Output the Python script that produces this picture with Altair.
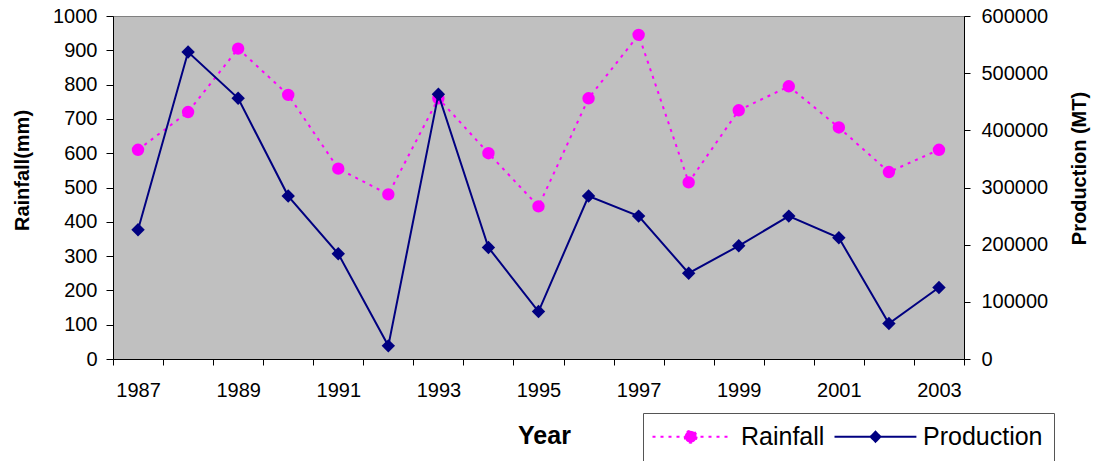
import math

import altair as alt
import pandas as pd

# ---- data -------------------------------------------------------------
years = list(range(1987, 2004))
rainfall_mm = [610, 720, 905, 770, 555, 480, 760, 600, 445,
               760, 945, 515, 725, 795, 675, 545, 610]
production_mt = [226000, 537000, 456000, 285000, 184000, 23000, 463000, 195000, 83000,
                 285000, 250000, 150000, 198000, 250000, 212000, 62000, 125000]

series_names = ["Rainfall", "Production"]
series_colors = ["#FF00FF", "#000080"]

rainfall_ticks = list(range(0, 1001, 100))
production_ticks = list(range(0, 600001, 100000))

# tick marks sit on the category boundaries, labels on every other year
year_bounds = [y - 0.5 for y in years] + [years[-1] + 0.5]
year_labels = [y for y in years if y % 2 == 1]
x_values = sorted(year_bounds + year_labels)

FONT = "Liberation Sans"


# ---- legend keys: a short line with the series marker in its middle ----
def ring(cx, r, n=32):
    pts = [(cx + r * math.cos(2 * math.pi * k / n), r * math.sin(2 * math.pi * k / n))
           for k in range(n)]
    return "M" + "L".join(f"{px:.3f},{py:.3f}" for px, py in pts) + "Z"


rain_key = "M-2,0L8.9,0" + ring(3.45, 0.85)
prod_key = "M-2,0L9.7,0M3.15,0L3.86,-0.71L4.57,0L3.86,0.71Z"

df = pd.DataFrame({"year": years, "Rainfall": rainfall_mm, "Production": production_mt})
base = alt.Chart(df)

x_enc = alt.X(
    "year:Q",
    scale=alt.Scale(domain=[1986.5, 2003.5], nice=False, zero=False),
    axis=alt.Axis(
        values=x_values,
        tickCount=len(x_values) + 10,
        tickMinStep=0.1,
        format="d",
        labelExpr="datum.value % 2 == 1 ? datum.label : ''",
        tickOpacity={"condition": {"test": "datum.value % 1 != 0", "value": 1}, "value": 0},
        labelOverlap=False,
        labelFlush=False,
        tickSize=6,
        labelPadding=15,
        title="Year",
        titleFontSize=25,
        titleFontWeight="bold",
        titleX=431,
        titleY=84,
        titleBaseline="alphabetic",
        titleAlign="center",
    ),
)

left_axis = alt.Axis(
    orient="left", values=rainfall_ticks, tickCount=20, format="d", tickSize=7, labelPadding=9,
    title="Rainfall(mm)", titleFontSize=20, titleFontWeight="bold",
    titleAngle=270, titleX=-91, titleY=154, titleBaseline="middle", titleAlign="center",
)
right_axis = alt.Axis(
    orient="right", values=production_ticks, tickCount=20, format="d", tickSize=6,
    labelPadding=11,
    title="Production (MT)", titleFontSize=20, titleFontWeight="bold",
    titleAngle=270, titleX=115, titleY=152, titleBaseline="middle", titleAlign="center",
)

key_legend = alt.Legend(
    title=None, orient="none", legendX=530, legendY=397, direction="horizontal",
    columns=2, symbolSize=196, symbolStrokeWidth=2, symbolOpacity=1,
    labelFont=FONT, labelFontSize=25, labelColor="black", labelOffset=62,
    labelLimit=300, columnPadding=5, padding=11,
    strokeColor="#555555", fillColor="white",
)

# invisible marks that only carry the legend
legend_layer = base.transform_fold(series_names, as_=["series", "value"]).mark_point(
    filled=True, opacity=0
).encode(
    fill=alt.Fill("series:N", scale=alt.Scale(domain=series_names, range=series_colors),
                  legend=key_legend),
    stroke=alt.Stroke("series:N", scale=alt.Scale(domain=series_names, range=series_colors),
                      legend=key_legend),
    shape=alt.Shape("series:N", scale=alt.Scale(domain=series_names, range=[rain_key, prod_key]),
                    legend=key_legend),
    strokeDash=alt.StrokeDash("series:N",
                              scale=alt.Scale(domain=series_names, range=[[3, 5], [1, 0]]),
                              legend=key_legend),
)

rain = alt.layer(
    base.mark_line(color="#FF00FF", strokeWidth=2, strokeDash=[3, 5]),
    base.mark_point(shape="circle", filled=True, color="#FF00FF", size=154, opacity=1),
).encode(
    x=x_enc,
    y=alt.Y("Rainfall:Q", scale=alt.Scale(domain=[0, 1000], nice=False), axis=left_axis),
)

production = alt.layer(
    base.mark_line(color="#000080", strokeWidth=2),
    base.mark_point(shape="diamond", filled=True, color="#000080", size=180, opacity=1),
).encode(
    x=x_enc,
    y=alt.Y("Production:Q", scale=alt.Scale(domain=[0, 600000], nice=False), axis=right_axis),
)

chart = (
    alt.layer(legend_layer, rain, production)
    .resolve_scale(y="independent")
    .properties(
        width=851,
        height=343,
        autosize=alt.AutoSizeParams(type="none"),
        padding={"left": 113, "top": 16, "right": 133, "bottom": 102},
        background="white",
    )
    .configure(font=FONT)
    .configure_view(fill="#C0C0C0", stroke="#808080", strokeWidth=1)
    .configure_axis(
        grid=False,
        labelFont=FONT,
        labelFontSize=20,
        labelColor="black",
        tickColor="black",
        domainColor="black",
        titleFont=FONT,
        titleColor="black",
    )
)

chart.save("out.html", embed_options={"renderer": "svg", "actions": False})
